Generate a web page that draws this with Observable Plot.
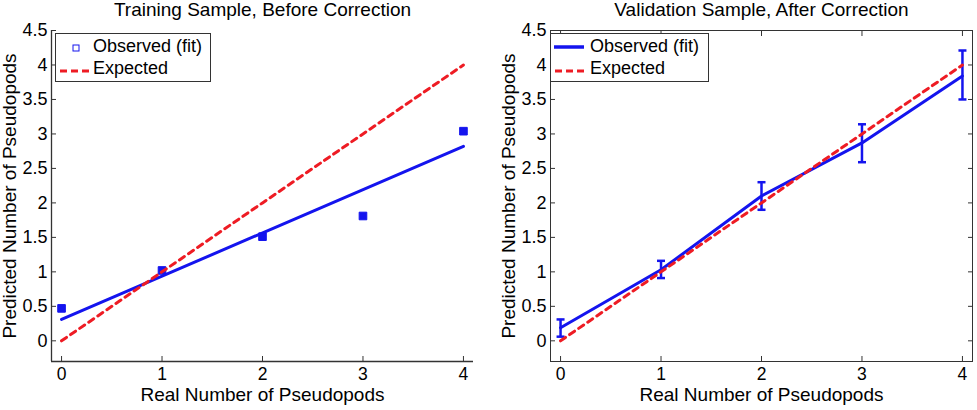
<!DOCTYPE html>
<html>
<head>
<meta charset="utf-8">
<script src="https://cdn.jsdelivr.net/npm/d3@7"></script>
<script src="https://cdn.jsdelivr.net/npm/@observablehq/plot@0.6"></script>
<style>
  html, body { margin: 0; padding: 0; background: #fff; }
  #wrap { position: relative; width: 977px; height: 410px; overflow: hidden; font-family: "Liberation Sans", Arial, Helvetica, sans-serif; }
  .panel { position: absolute; top: 0; }
  .legend { position: absolute; background: #fff; border: 1px solid #333; box-sizing: border-box; font-size: 18px; color: #000; }
  .legend .row { position: absolute; left: 0; white-space: nowrap; }
  .legend svg { position: absolute; overflow: visible; }
</style>
</head>
<body>
<div id="wrap">
  <div class="panel" id="left" style="left:0px"></div>
  <div class="panel" id="right" style="left:488px"></div>
</div>
<script>
// ---- data ----
const xTicks = [0, 1, 2, 3, 4];
const yTicks = [0, 0.5, 1, 1.5, 2, 2.5, 3, 3.5, 4, 4.5];
const yTickLabels = ["0", "0.5", "1", "1.5", "2", "2.5", "3", "3.5", "4", "4.5"];
const xDomain = [-0.1, 4.1];
const yDomain = [-0.3, 4.5];

const realCounts = [0, 1, 2, 3, 4];
const expected = [0, 1, 2, 3, 4];

// Training sample, before correction
const trainObserved = [0.47, 1.02, 1.51, 1.81, 3.04];
const trainFitX = [0, 4];
const trainFitY = [0.31, 2.82];

// Validation sample, after correction
const validObserved = [0.19, 1.03, 2.10, 2.87, 3.84];
const validLower = [0.06, 0.91, 1.90, 2.59, 3.50];
const validUpper = [0.31, 1.16, 2.30, 3.14, 4.21];

const titles = ["Training Sample, Before Correction", "Validation Sample, After Correction"];
const xLabel = "Real Number of Pseudopods";
const yLabel = "Predicted Number of Pseudopods";
const legendLabels = ["Observed (fit)", "Expected"];

const BLUE = "#1414ee";
const RED = "#ee1c24";
const AXIS = "#333";
const FONT = '"Liberation Sans", Arial, Helvetica, sans-serif';

// ---- tables ----
const expectedRows = realCounts.map((x, i) => ({x, y: expected[i]}));
const trainRows = realCounts.map((x, i) => ({x, y: trainObserved[i]}));
const trainFitRows = trainFitX.map((x, i) => ({x, y: trainFitY[i]}));
const validRows = realCounts.map((x, i) => ({x, y: validObserved[i], lo: validLower[i], hi: validUpper[i]}));
const capRows = validRows.flatMap(d => [{x: d.x, y: d.lo}, {x: d.x, y: d.hi}]);

const capSymbol = { draw(ctx) { ctx.moveTo(-4, 0); ctx.lineTo(4, 0); } };
const yFmt = d => yTickLabels[yTicks.indexOf(d)];

function commonMarks(title, box) {
  const m = [];
  if (box) {
    m.push(Plot.frame({stroke: AXIS, strokeWidth: 1}));
    m.push(Plot.axisX(xTicks, {anchor: "top", tickSize: -5, tickFormat: () => "", label: null, stroke: AXIS}));
    m.push(Plot.axisY(yTicks, {anchor: "right", tickSize: -5, tickFormat: () => "", label: null, stroke: AXIS}));
  } else {
    m.push(Plot.ruleY([yDomain[0]], {stroke: AXIS, strokeWidth: 1.3}));
    m.push(Plot.ruleX([xDomain[0]], {stroke: AXIS, strokeWidth: 1.3}));
  }
  m.push(Plot.axisX(xTicks, {anchor: "bottom", tickSize: -5, tickPadding: 11, label: null, stroke: AXIS, fill: "#000", fontSize: 17.5}));
  m.push(Plot.axisY(yTicks, {anchor: "left", tickSize: -5, tickPadding: 9, tickFormat: yFmt, label: null, stroke: AXIS, fill: "#000", fontSize: 18}));
  m.push(Plot.text([title], {frameAnchor: "top", lineAnchor: "bottom", dy: -15, fontSize: 19, fill: "#000"}));
  m.push(Plot.text([xLabel], {frameAnchor: "bottom", lineAnchor: "bottom", dy: 39, fontSize: 19, fill: "#000"}));
  m.push(Plot.text([yLabel], {frameAnchor: "left", textAnchor: "middle", rotate: -90, dx: -42, fontSize: 19, fill: "#000"}));
  return m;
}

const leftPlot = Plot.plot({
  width: 488, height: 410,
  marginLeft: 51, marginRight: 15, marginTop: 30, marginBottom: 49,
  x: {domain: xDomain, axis: null},
  y: {domain: yDomain, axis: null},
  style: {fontFamily: FONT, fontSize: "18px", color: "#000", background: "transparent", overflow: "visible"},
  marks: [
    ...commonMarks(titles[0], false),
    Plot.line(trainFitRows, {x: "x", y: "y", stroke: BLUE, strokeWidth: 3}),
    Plot.dot(trainRows, {x: "x", y: "y", symbol: "square", r: 4.3, fill: BLUE, stroke: BLUE, strokeWidth: 1}),
    Plot.line(expectedRows, {x: "x", y: "y", stroke: RED, strokeWidth: 3, strokeDasharray: "6,5"})
  ]
});

const rightPlot = Plot.plot({
  width: 489, height: 410,
  marginLeft: 62, marginRight: 5, marginTop: 30, marginBottom: 49,
  x: {domain: xDomain, axis: null},
  y: {domain: yDomain, axis: null},
  style: {fontFamily: FONT, fontSize: "18px", color: "#000", background: "transparent", overflow: "visible"},
  marks: [
    ...commonMarks(titles[1], true),
    Plot.line(validRows, {x: "x", y: "y", stroke: BLUE, strokeWidth: 3}),
    Plot.ruleX(validRows, {x: "x", y1: "lo", y2: "hi", stroke: BLUE, strokeWidth: 2.5}),
    Plot.dot(capRows, {x: "x", y: "y", symbol: capSymbol, stroke: BLUE, strokeWidth: 2.5, fill: "none"}),
    Plot.line(expectedRows, {x: "x", y: "y", stroke: RED, strokeWidth: 3, strokeDasharray: "6,5"})
  ]
});

document.getElementById("left").appendChild(leftPlot);
document.getElementById("right").appendChild(rightPlot);

// ---- legends (HTML overlays) ----
function legend(left, top, width, firstSwatch) {
  const div = document.createElement("div");
  div.className = "legend";
  Object.assign(div.style, {left: left + "px", top: top + "px", width: width + "px", height: "49px"});
  const sw = firstSwatch === "square"
    ? `<rect x="17" y="11" width="6" height="6" fill="none" stroke="${BLUE}" stroke-width="1"/>`
    : `<line x1="3" y1="13" x2="33" y2="13" stroke="${BLUE}" stroke-width="3.5"/>`;
  div.innerHTML =
    `<svg width="40" height="49" style="left:0;top:0">${sw}` +
    `<line x1="4" y1="37" x2="36" y2="37" stroke="${RED}" stroke-width="3" stroke-dasharray="7,4"/></svg>` +
    `<div class="row" style="left:${firstSwatch === "square" ? 37 : 39}px;top:2px">${legendLabels[0]}</div>` +
    `<div class="row" style="left:${firstSwatch === "square" ? 37 : 39}px;top:24px">${legendLabels[1]}</div>`;
  document.getElementById("wrap").appendChild(div);
}
legend(55, 33, 156, "square");
legend(550, 33, 159, "line");
</script>
</body>
</html>
